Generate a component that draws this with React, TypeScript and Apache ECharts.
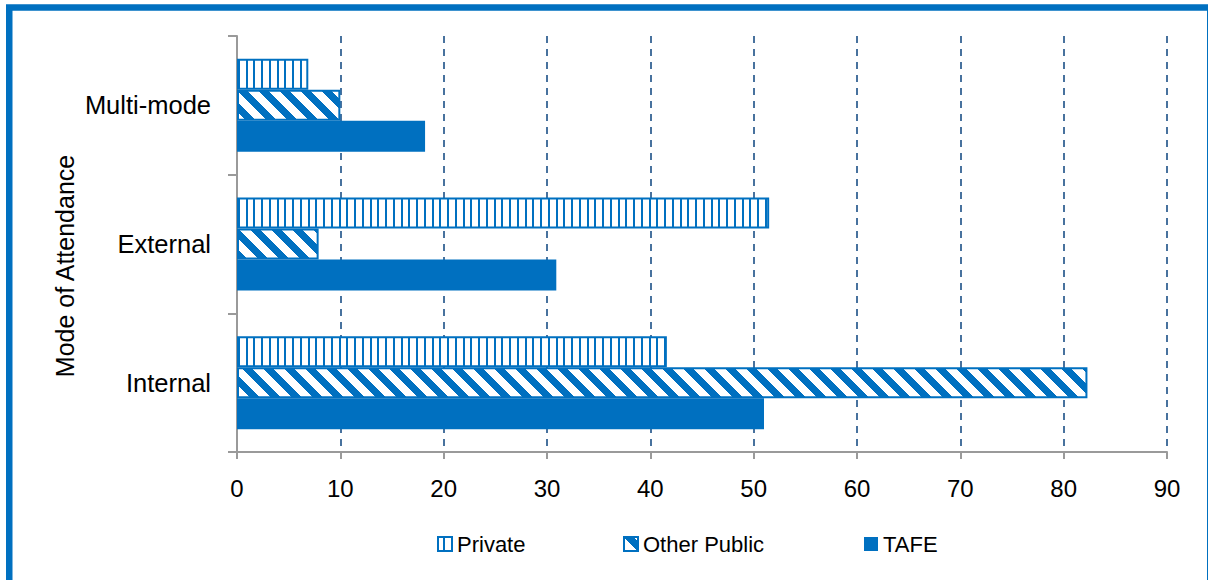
import React, { useEffect, useRef } from 'react';
import * as echarts from 'echarts';

// Enrolments by mode of attendance and provider type
const categories = ['Internal', 'External', 'Multi-mode'];
const tafeValues = [51.0, 30.9, 18.2];
const otherPublicValues = [82.3, 7.9, 10.0];
const privateValues = [41.6, 51.5, 6.9];

const axisMin = 0;
const axisMax = 90;
const axisStep = 10;

const BLUE = '#0070C0';
const FONT = 'Liberation Sans, Arial, sans-serif';

// Narrow vertical stripes (blue lines on white), 4 stripes per 31px tile
function verticalStripes(): HTMLCanvasElement {
  const c = document.createElement('canvas');
  c.width = 31;
  c.height = 4;
  const ctx = c.getContext('2d')!;
  ctx.fillStyle = '#ffffff';
  ctx.fillRect(0, 0, 31, 4);
  ctx.fillStyle = BLUE;
  [5, 13, 21, 29].forEach((x) => ctx.fillRect(x, 0, 2, 4));
  return c;
}

// Wide downward diagonal stripes, drawn pixel by pixel for crisp steps
function downwardDiagonal(): HTMLCanvasElement {
  const p = 21;
  const band = 10;
  const c = document.createElement('canvas');
  c.width = p;
  c.height = p;
  const ctx = c.getContext('2d')!;
  const img = ctx.createImageData(p, p);
  for (let y = 0; y < p; y++) {
    for (let x = 0; x < p; x++) {
      const d = (((x - y) % p) + p) % p;
      const i = (y * p + x) * 4;
      if (d < band) {
        img.data[i] = 0x00;
        img.data[i + 1] = 0x70;
        img.data[i + 2] = 0xc0;
      } else {
        img.data[i] = 255;
        img.data[i + 1] = 255;
        img.data[i + 2] = 255;
      }
      img.data[i + 3] = 255;
    }
  }
  ctx.putImageData(img, 0, 0);
  return c;
}

export default function App() {
  const ref = useRef<HTMLDivElement>(null);

  useEffect(() => {
    document.body.style.margin = '0';
    if (!ref.current) return;
    const chart = echarts.init(ref.current, undefined, { renderer: 'svg' });

    const stripes = verticalStripes();
    const diag = downwardDiagonal();
    const stripeFill = { image: stripes, repeat: 'repeat', imageWidth: 31, imageHeight: 4 };
    const diagFill = { image: diag, repeat: 'repeat', imageWidth: 21, imageHeight: 21 };

    const legendBase = {
      orient: 'horizontal',
      top: 533,
      padding: 0,
      itemWidth: 14,
      itemHeight: 14,
      itemGap: 5,
      icon: 'rect',
      textStyle: { color: '#000', fontSize: 22, fontFamily: FONT },
    };

    const option: any = {
      animation: false,
      textStyle: { fontFamily: FONT },
      grid: { left: 237, right: 41, top: 36, bottom: 128, containLabel: false },
      xAxis: {
        type: 'value',
        min: axisMin,
        max: axisMax,
        interval: axisStep,
        axisLine: { show: true, lineStyle: { color: '#9a9a9a', width: 2 } },
        axisTick: { show: true, length: 7, lineStyle: { color: '#9a9a9a', width: 2 } },
        axisLabel: { color: '#000', fontSize: 24, fontFamily: FONT, margin: 24 },
        splitLine: {
          show: true,
          showMinLine: false,
          lineStyle: { color: '#2F5F91', width: 1.75, type: [7, 6] },
        },
      },
      yAxis: {
        type: 'category',
        data: categories,
        axisLine: { show: true, lineStyle: { color: '#9a9a9a', width: 2 } },
        axisTick: { show: true, length: 9, lineStyle: { color: '#9a9a9a', width: 2 } },
        axisLabel: { color: '#000', fontSize: 25.5, fontFamily: FONT, margin: 26 },
        splitLine: { show: false },
      },
      legend: [
        { ...legendBase, left: 437, data: ['Private'] },
        { ...legendBase, left: 623, data: ['Other Public'] },
        { ...legendBase, left: 864, data: ['TAFE'] },
      ],
      // Listed top-to-bottom within each category band
      series: [
        {
          name: 'Private',
          type: 'bar',
          data: privateValues,
          barWidth: 31,
          barGap: '0%',
          itemStyle: { color: stripeFill, borderColor: BLUE, borderWidth: 2 },
        },
        {
          name: 'Other Public',
          type: 'bar',
          data: otherPublicValues,
          barWidth: 31,
          barGap: '0%',
          itemStyle: { color: diagFill, borderColor: BLUE, borderWidth: 2 },
        },
        {
          name: 'TAFE',
          type: 'bar',
          data: tafeValues,
          barWidth: 31,
          barGap: '0%',
          itemStyle: { color: BLUE },
        },
      ],
      graphic: [
        {
          type: 'rect',
          silent: true,
          shape: { x: 9.25, y: 7.4, width: 1201, height: 620 },
          style: { fill: 'none', stroke: BLUE, lineWidth: 6.5 },
        },
        {
          type: 'text',
          x: 65,
          y: 266,
          rotation: Math.PI / 2,
          style: {
            text: 'Mode of Attendance',
            fill: '#000',
            fontSize: 25,
            fontFamily: FONT,
            textAlign: 'center',
            textVerticalAlign: 'middle',
          },
        },
      ],
    };

    chart.setOption(option);
    return () => chart.dispose();
  }, []);

  return <div ref={ref} style={{ width: 1208, height: 580 }} />;
}
